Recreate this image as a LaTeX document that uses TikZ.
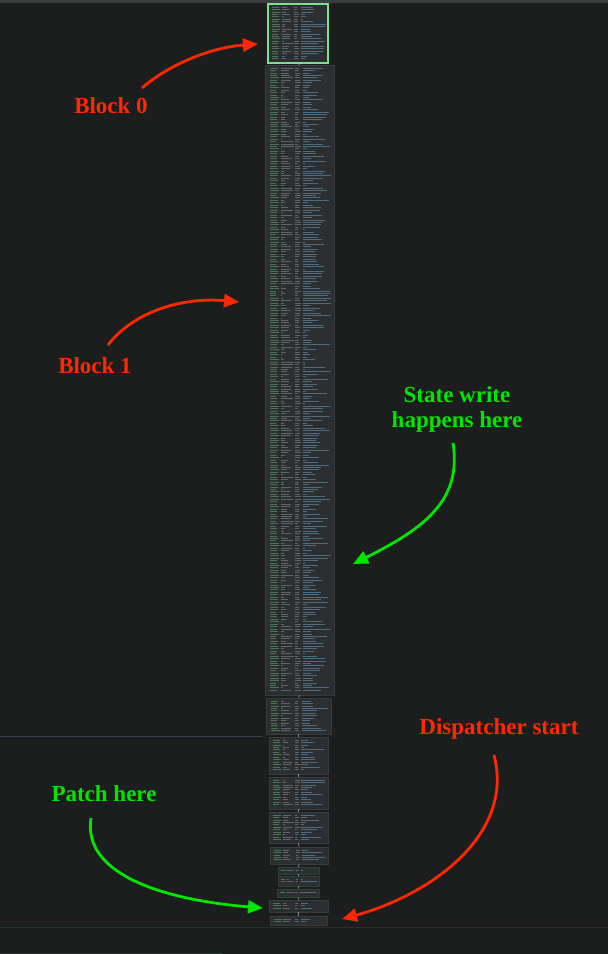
\documentclass[tikz,border=0pt]{standalone}
\usepackage{fontspec}
\setmainfont{Liberation Serif}
\usetikzlibrary{arrows.meta}
\definecolor{bg}{RGB}{28,30,30}
\definecolor{topbar}{RGB}{60,61,63}
\definecolor{blkfill}{RGB}{44,47,50}
\definecolor{blkedge}{RGB}{56,60,64}
\definecolor{selgreen}{RGB}{126,224,140}
\definecolor{dimgreen}{RGB}{40,70,48}
\definecolor{codegreen}{RGB}{72,118,84}
\definecolor{codegray}{RGB}{96,101,106}
\definecolor{codeblue}{RGB}{80,106,126}
\definecolor{connc}{RGB}{130,140,155}
\definecolor{sepline}{RGB}{58,64,80}
\definecolor{sepgreen}{RGB}{38,52,46}
\definecolor{sepred}{RGB}{56,40,40}
\definecolor{annred}{RGB}{255,40,0}
\definecolor{anngreen}{RGB}{0,230,0}
\tikzset{
  blk/.style={fill=blkfill, draw=blkedge, line width=0.6pt, inner sep=0pt},
  rowg/.style={codegreen, line width=0.9pt},
  roww/.style={codegray, line width=0.9pt},
  rowb/.style={codeblue, line width=0.9pt},
  conn/.style={connc, line width=0.8pt},
  ann/.style={font=\bfseries\fontsize{23}{25}\selectfont, align=center, inner sep=0pt},
  redarrow/.style={annred, line width=2.8pt, -{Triangle[length=15pt,width=13pt]}},
  greenarrow/.style={anngreen, line width=2.8pt, -{Triangle[length=15pt,width=13pt]}}
}
\newcommand\codeblk[6][]{% style, name, x1, y1, x2, y2
  \node[blk,#1, minimum width={(#5)-(#3)}, minimum height={(#6)-(#4)}] (#2) at ({((#3)+(#5))/2},{((#4)+(#6))/2}) {};
  \pgfmathsetmacro\bw{(#5)-(#3)}
  \pgfmathtruncatemacro\nrows{max(1,((#6)-(#4)-4)/2.45)}
  \foreach \i in {1,...,\nrows}{
    \pgfmathsetmacro\yy{(#4)+0.6+\i*2.45}
    \pgfmathsetmacro\wa{\bw*(0.09+0.05*rnd)}
    \pgfmathsetmacro\wb{\bw*(0.02+0.17*rnd)}
    \pgfmathsetmacro\wc{\bw*(0.04+0.04*rnd)}
    \pgfmathsetmacro\wd{\bw*(0.03+0.38*rnd)}
    \draw[rowg] ({(#3)+0.07*\bw},\yy) -- ++(\wa,0);
    \draw[roww] ({(#3)+0.23*\bw},\yy) -- ++(\wb,0);
    \draw[roww] ({(#3)+0.44*\bw},\yy) -- ++(\wc,0);
    \draw[rowb] ({(#3)+0.55*\bw},\yy) -- ++(\wd,0);
  }
}
\begin{document}
\begin{tikzpicture}[x=1pt,y=-1pt]
\pgfmathsetseed{11}
\fill[bg] (0,0) rectangle (608,954);
\useasboundingbox (0,0) rectangle (608,954);
\fill[topbar] (0,0) rectangle (608,3);
% separator lines
\draw[sepline, line width=1pt] (0,736) -- (262,736);
\draw[sepgreen, line width=1pt] (0,927) -- (298,927);
\draw[sepred, line width=1pt] (298,927) -- (608,927);
\draw[sepgreen, line width=1pt] (0,953) -- (222,953);
% blocks
\codeblk{b1}{265}{65}{334}{695}
\codeblk{b2}{266}{698}{331}{734}
\codeblk{b3}{269}{737}{328}{774}
\codeblk{b4}{269}{777}{328}{809}
\codeblk{b5}{269}{812}{328}{843}
\codeblk{b6}{270}{847}{328}{864}
\codeblk[draw=dimgreen]{b7}{278}{867}{319}{874}
\codeblk{b8}{278}{876}{319}{886}
\codeblk[draw=dimgreen]{b9}{277}{889}{319}{897}
\codeblk{b10}{269}{900}{328}{912}
\codeblk{b11}{270}{916}{327}{925}
\codeblk[draw=selgreen, line width=1.4pt]{b0}{268}{4}{328}{63}
% connectors
\draw[conn] (b0.south) -- (b1.north);
\draw[conn] (b1.south) -- (b2.north);
\draw[conn] (b2.south) -- (b3.north);
\draw[conn] (b3.south) -- (b4.north);
\draw[conn] (b4.south) -- (b5.north);
\draw[conn] (b5.south) -- (b6.north);
\draw[conn] (b6.south) -- (b7.north);
\draw[conn] (b7.south) -- (b8.north);
\draw[conn] (b8.south) -- (b9.north);
\draw[conn] (b9.south) -- (b10.north);
\draw[conn] (b10.south) -- (b11.north);
% annotations
\node[ann, text=annred] (l0) at (111,106) {Block 0};
\node[ann, text=annred] (l1) at (95,366) {Block 1};
\node[ann, text=anngreen] (lsw) at (457,409) {State write\\happens here};
\node[ann, text=anngreen] (lph) at (104,794) {Patch here};
\node[ann, text=annred] (lds) at (499,729) {Dispatcher start};
\coordinate (s0) at (142,88);  \coordinate (e0) at (258,44);
\coordinate (s1) at (108,345); \coordinate (e1) at (239,302);
\coordinate (ssw) at (453,443); \coordinate (esw) at (353,564);
\coordinate (sph) at (91,818);  \coordinate (eph) at (263,908);
\coordinate (sds) at (494,755); \coordinate (eds) at (342,919);
\draw[redarrow] (s0) .. controls (172,62) and (215,47) .. (e0);
\draw[redarrow] (s1) .. controls (135,310) and (185,297) .. (e1);
\draw[greenarrow] (ssw) .. controls (462,500) and (425,528) .. (esw);
\draw[greenarrow] (sph) .. controls (82,875) and (165,900) .. (eph);
\draw[redarrow] (sds) .. controls (515,835) and (430,895) .. (eds);
\end{tikzpicture}
\end{document}
